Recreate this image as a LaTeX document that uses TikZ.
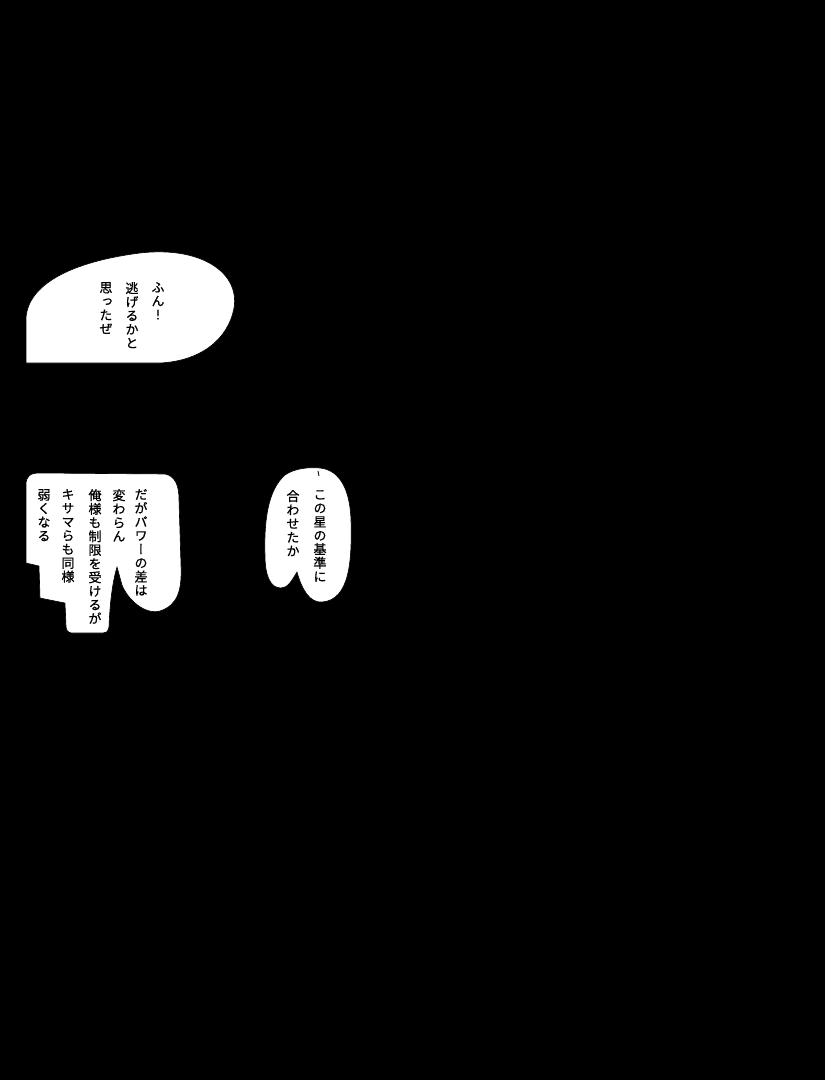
\documentclass[tikz,border=0pt]{standalone}
\usepackage{fontspec}
\newfontfamily\jpfont[RawFeature=+vert, FakeBold=0.6]{Noto Sans CJK JP}
\usetikzlibrary{positioning}

\tikzset{
  bubble/.style={fill=white, draw=black, line width=0.6pt},
  tate/.style={font=\jpfont\fontsize{13}{13.7}\selectfont, align=center, inner sep=0pt, anchor=north}
}

\begin{document}
\begin{tikzpicture}[x=1pt,y=-1pt]
    % Page
    \fill[black] (0,0) rectangle (825,1080);

    % Top bubble
    \draw[bubble] (26,363) -- (26,318) .. controls (28,285) and (70,262) .. (140,253)
        .. controls (200,246) and (240,272) .. (234,308)
        .. controls (228,340) and (200,361) .. (160,363) -- cycle;
    \node[tate] (fun) at (158,282) {ふ\\ん\\！};
    \node[tate] (nigeru) at (132,282) {逃\\げ\\る\\か\\と};
    \node[tate] (omotta) at (106,282) {思\\っ\\た\\ぜ};

    % Left bubble
    \draw[bubble] (26,485) .. controls (26,476) and (30,473) .. (40,473) -- (165,474)
        .. controls (175,476) and (179,485) .. (179,500) -- (181,565)
        .. controls (182,590) and (178,605) .. (160,611)
        .. controls (145,615) and (128,600) .. (122,585)
        .. controls (120,578) and (118,570) .. (117,567)
        .. controls (113,580) and (110,600) .. (109,627)
        .. controls (108,632) and (106,633) .. (103,633) -- (72,633)
        .. controls (68,633) and (66,630) .. (66,626) -- (65,603) -- (40,598)
        -- (39,566) -- (26,563) -- cycle;
    \node[tate] (daga) at (141,489) {だ\\が\\パ\\ワ\\ー\\の\\差\\は};
    \node[tate] (kawaran) at (119,489) {変\\わ\\ら\\ん};
    \node[tate] (oresama) at (95,489) {俺\\様\\も\\制\\限\\を\\受\\け\\る\\が};
    \node[tate] (kisama) at (68,489) {キ\\サ\\マ\\ら\\も\\同\\様};
    \node[tate] (yowaku) at (44,489) {弱\\く\\な\\る};

    % Middle bubble
    \draw[bubble] (297,572) .. controls (292,580) and (288,588) .. (281,588)
        .. controls (270,588) and (265,575) .. (265,555)
        .. controls (264,520) and (268,490) .. (285,475)
        .. controls (295,468) and (310,467) .. (320,468)
        .. controls (340,470) and (350,490) .. (351,520)
        .. controls (352,560) and (350,600) .. (322,602)
        .. controls (310,603) and (302,590) .. (297,572) -- cycle;
    \draw[line width=0.8pt] (318,471) -- (319,476);
    \node[tate] (hoshi) at (320,490) {こ\\の\\星\\の\\基\\準\\に};
    \node[tate] (awase) at (293,490) {合\\わ\\せ\\た\\か};
\end{tikzpicture}
\end{document}
